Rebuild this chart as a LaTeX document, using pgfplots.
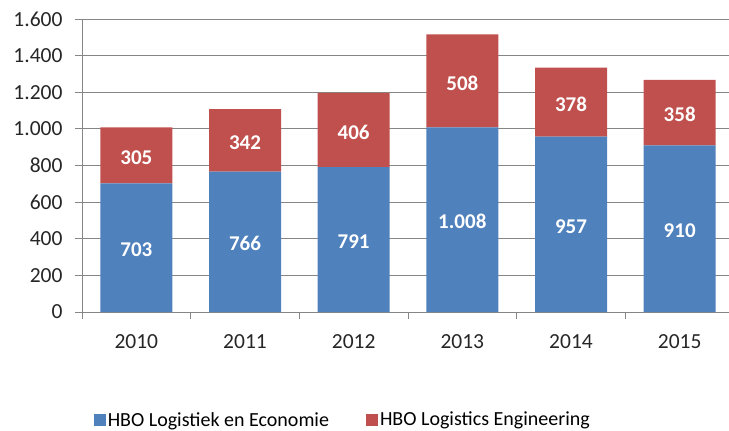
\documentclass[border=0pt]{standalone}
\usepackage{pgfplots}
\pgfplotsset{compat=1.18}
\usepackage{fontspec}
\setmainfont{Carlito}
\usetikzlibrary{calc}

\definecolor{hboblue}{HTML}{4F81BD}
\definecolor{hbored}{HTML}{C0504D}
\definecolor{axgray}{HTML}{868686}

\begin{document}
\begin{tikzpicture}
\begin{axis}[
    name=ax,
    scale only axis,
    width=652pt, height=293pt,
    ybar stacked,
    bar width=72pt,
    xmin=-0.5, xmax=5.5,
    ymin=0, ymax=1600,
    xtick={-0.5,0.5,...,5.5},
    x tick label as interval,
    xticklabels={2010,2011,2012,2013,2014,2015},
    ytick={0,200,...,1600},
    axis x line*=bottom,
    axis y line*=left,
    ymajorgrids,
    major grid style={axgray, line width=0.8pt},
    axis line style={axgray, line width=0.8pt},
    tick style={axgray, line width=0.8pt},
    major tick length=7pt,
    tick align=outside,
    ticklabel style={font=\fontsize{21.5}{24}\selectfont, text=black!85},
    yticklabel style={xshift=-9pt},
    xticklabel style={yshift=-12pt},
    /pgf/number format/.cd, 1000 sep={.}, assume math mode=true,
    /pgfplots/.cd,
    nodes near coords={\pgfmathprintnumber{\rawy}},
    visualization depends on=rawy \as \rawy,
    every node near coord/.append style={
        font=\fontsize{21}{24}\selectfont\bfseries,
        text=white, anchor=center, yshift=-2pt},
    legend style={at={(0.40,-0.368)}, anchor=center, draw=none,
        legend columns=2, font=\fontsize{20}{23}\selectfont,
        /tikz/every even column/.append style={column sep=35pt}},
    legend image code/.code={\fill[#1] (0pt,-6pt) rectangle (12pt,6pt);},
]
\addplot[fill=hboblue, draw=none] coordinates {
(0,703) (1,766) (2,791) (3,1008) (4,957) (5,910)
};
\addplot[fill=hbored, draw=none] coordinates {
(0,305) (1,342) (2,406) (3,508) (4,378) (5,358)
};
\legend{HBO Logistiek en Economie, HBO Logistics Engineering}
\end{axis}
\pgfresetboundingbox
\path ($(ax.south west)+(-82pt,-118pt)$) rectangle ($(ax.north east)+(-5pt,19pt)$);
\end{tikzpicture}
\end{document}
